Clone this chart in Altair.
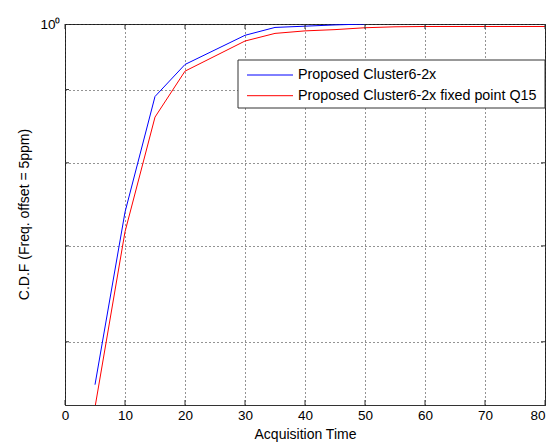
import altair as alt
import pandas as pd

# ---- data ----
series = ["Proposed Cluster6-2x", "Proposed Cluster6-2x fixed point Q15"]
colors = ["#0000ff", "#ff0000"]

x_blue = [5, 10, 15, 20, 30, 35, 40, 45, 50]
y_blue = [0.560, 0.739, 0.890, 0.937, 0.982, 0.9945, 0.9965, 0.9985, 1.0]

x_red = [5, 10, 15, 20, 30, 35, 40, 45, 50, 55, 60, 70, 80]
y_red = [0.540, 0.716, 0.861, 0.927, 0.973, 0.985, 0.989, 0.991, 0.994, 0.9955, 0.996, 0.996, 0.996]

x_ticks = [0, 10, 20, 30, 40, 50, 60, 70, 80]
y_ticks = [0.6, 0.7, 0.8, 0.9, 1.0]

rows = []
for i, (xs, ys) in enumerate([(x_blue, y_blue), (x_red, y_red)]):
    for k, (x, y) in enumerate(zip(xs, ys)):
        rows.append({"x": x, "y": y, "s": series[i], "o": k})
df = pd.DataFrame(rows)

W, H = 480, 381
FONT = "Liberation Sans"
FRAME = "#333"
xscale = alt.Scale(domain=[0, 80], nice=False, zero=False)
yscale = alt.Scale(type="log", domain=[0.542, 1.0], nice=False)

x_axis = alt.Axis(values=x_ticks, title="Acquisition Time", grid=True,
                  format="d", labelPadding=3, titleY=22, titleBaseline="top",
                  labelOverlap=False, labelFlush=False,
                  labelAlign=alt.condition("datum.value >= 80", alt.value("right"), alt.value("center")))
y_axis = alt.Axis(values=y_ticks, title="C.D.F (Freq. offset = 5ppm)", grid=True,
                  labelExpr="datum.value == 1 ? '10\u2070' : ''",
                  labelPadding=5, labelBaseline="middle", labelOverlap=False,
                  labelFlush=False,
                  titleAngle=270, titleX=-34, titleY=190, titleAlign="center",
                  titleBaseline="bottom")

lines = alt.Chart(df).mark_line(strokeWidth=1, clip=True).encode(
    x=alt.X("x:Q", scale=xscale, axis=x_axis),
    y=alt.Y("y:Q", scale=yscale, axis=y_axis),
    color=alt.Color("s:N", scale=alt.Scale(domain=series, range=colors), legend=None),
    order="o:Q",
)

xt = pd.DataFrame({"x": x_ticks})
yt = pd.DataFrame({"y": y_ticks[:-1]})
bottom_ticks = alt.Chart(xt).mark_rule(color=FRAME, strokeWidth=1).encode(
    x=alt.X("x:Q", scale=xscale, axis=x_axis), y=alt.value(H), y2=alt.value(H - 5))
top_ticks = alt.Chart(xt).mark_rule(color=FRAME, strokeWidth=1).encode(
    x=alt.X("x:Q", scale=xscale, axis=x_axis), y=alt.value(0), y2=alt.value(5))
left_ticks = alt.Chart(yt).mark_rule(color=FRAME, strokeWidth=1).encode(
    y=alt.Y("y:Q", scale=yscale, axis=y_axis), x=alt.value(0), x2=alt.value(4))
right_ticks = alt.Chart(yt).mark_rule(color=FRAME, strokeWidth=1).encode(
    y=alt.Y("y:Q", scale=yscale, axis=y_axis), x=alt.value(W), x2=alt.value(W - 4))

# ---- legend drawn by hand (MATLAB-style box) ----
box = alt.Chart(pd.DataFrame({"k": [0]})).mark_rect(
    fill="white", stroke=FRAME, strokeWidth=1).encode(
    x=alt.value(173), x2=alt.value(480), y=alt.value(36), y2=alt.value(84))
leg_layers = [box]
for i, (s, c) in enumerate(zip(series, colors)):
    one = pd.DataFrame({"s": [s]})
    py = 51 + 20.7 * i
    leg_layers.append(alt.Chart(one).mark_rule(color=c, strokeWidth=1).encode(
        x=alt.value(182), x2=alt.value(228), y=alt.value(py)))
    leg_layers.append(alt.Chart(one).mark_text(
        align="left", baseline="middle", font=FONT, fontSize=14.3, color="#000").encode(
        x=alt.value(233), y=alt.value(py), text="s:N"))

chart = alt.layer(lines, bottom_ticks, top_ticks, left_ticks, right_ticks, *leg_layers).properties(
    width=W, height=H,
    padding={"left": 57, "top": 16, "right": 2, "bottom": 37},
    autosize=alt.AutoSizeParams(type="none"),
    background="white",
).configure_view(
    stroke=FRAME, strokeWidth=1
).configure_axis(
    labelFont=FONT, labelFontSize=13.5, labelColor="#000",
    titleFont=FONT, titleFontSize=14, titleFontWeight="normal", titleColor="#000",
    domain=False, ticks=False,
    gridColor="#000", gridDash=[1, 3], gridOpacity=0.85, gridWidth=1,
)

chart.save("out.html", embed_options={"renderer": "svg", "actions": False})
